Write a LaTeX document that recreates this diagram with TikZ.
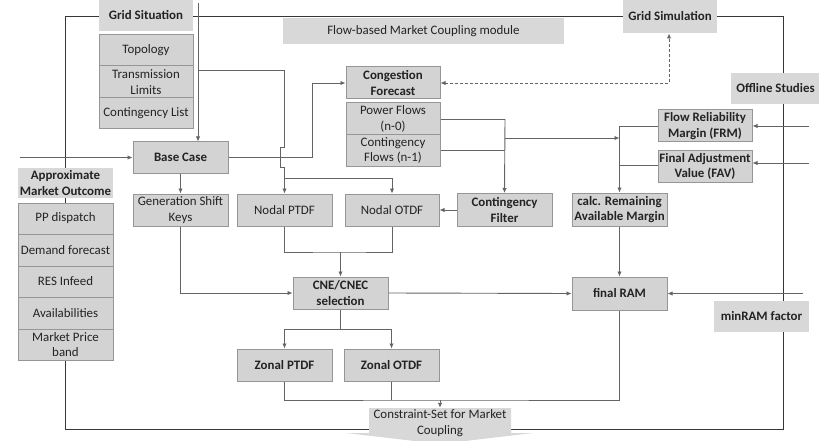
\documentclass[tikz,border=0pt]{standalone}
\usepackage{fontspec}
\setmainfont{Carlito}
\usetikzlibrary{arrows.meta}
\definecolor{boxfill}{RGB}{211,211,211}
\definecolor{titlefill}{RGB}{216,216,216}
\definecolor{boxline}{RGB}{150,150,150}
\definecolor{connc}{RGB}{100,100,100}
\definecolor{framec}{RGB}{55,55,55}
\definecolor{txt}{RGB}{35,35,35}
\begin{document}
\begin{tikzpicture}[x=1pt,y=-1pt,
  box/.style={draw=boxline, fill=boxfill, line width=1pt, inner sep=0pt, align=center, text=txt,
    font=\fontsize{12.9}{15.7}\selectfont},
  bbox/.style={box, font=\fontsize{12.9}{15.7}\selectfont\bfseries},
  tbox/.style={bbox, draw=none, fill=titlefill},
  conn/.style={draw=connc, line width=0.9pt},
  arr/.style={conn, -{Latex[length=5pt,width=4.5pt]}},
  framel/.style={draw=framec, line width=1pt}]
\useasboundingbox (0,0) rectangle (819,441);
% outer frame
\draw[framel] (65,17) rectangle (783,429);
% constraint-set arrow shape
\fill[titlefill] (369,408) -- (511,408) -- (511,433) -- (533,433) -- (440,444) -- (346,433) -- (369,433) -- cycle;
\node[inner sep=0pt, align=center, text=txt, font=\fontsize{12.9}{15.7}\selectfont, minimum height=30pt] (cs) at (440,423) {Constraint-Set for Market\\Coupling};
% top titles
\node[tbox, minimum width=94pt, minimum height=31pt] (gridsit) at (146,15.5) {Grid Situation};
\node[box, draw=none, fill=titlefill, minimum width=281pt, minimum height=26pt] (module) at (423.5,31) {Flow-based Market Coupling module};
\node[tbox, minimum width=94pt, minimum height=33pt] (gridsim) at (670,16.5) {Grid Simulation};
\node[tbox, minimum width=89pt, minimum height=31pt] (offline) at (775.5,88.5) {Offline Studies};
\node[tbox, minimum width=95pt, minimum height=31pt] (minram) at (761.5,316.5) {minRAM factor};
% grid situation stack
\node[box, minimum width=94pt, minimum height=31pt] (topo) at (146,50.5) {Topology};
\node[box, minimum width=94pt, minimum height=32pt] (trans) at (146,82) {Transmission\\Limits};
\node[box, minimum width=94pt, minimum height=31pt] (clist) at (146,113.5) {Contingency List};
% approximate market outcome stack
\node[tbox, minimum width=95pt, minimum height=30pt] (amo) at (65.5,183) {Approximate\\Market Outcome};
\node[box, minimum width=95pt, minimum height=31pt] (pp) at (65.5,218.5) {PP dispatch};
\node[box, minimum width=95pt, minimum height=32pt] (demand) at (65.5,250) {Demand forecast};
\node[box, minimum width=95pt, minimum height=31pt] (res) at (65.5,281.5) {RES Infeed};
\node[box, minimum width=95pt, minimum height=32pt] (avail) at (65.5,313) {Availabilities};
\node[box, minimum width=95pt, minimum height=31pt] (mpb) at (65.5,344.5) {Market Price\\band};
% main boxes
\node[bbox, minimum width=95pt, minimum height=31pt] (base) at (180.5,157.5) {Base Case};
\node[box, minimum width=95pt, minimum height=32pt] (gsk) at (180.5,210) {Generation Shift\\Keys};
\node[box, minimum width=95pt, minimum height=32pt] (nptdf) at (284.5,210) {Nodal PTDF};
\node[box, minimum width=94pt, minimum height=32pt] (notdf) at (392,210) {Nodal OTDF};
\node[bbox, minimum width=95pt, minimum height=33pt] (cfilter) at (504.5,210) {Contingency\\Filter};
\node[bbox, minimum width=94pt, minimum height=32pt] (congf) at (393,83) {Congestion\\Forecast};
\node[box, minimum width=94pt, minimum height=32pt] (pflow) at (393,119) {Power Flows\\(n-0)};
\node[box, minimum width=94pt, minimum height=31pt] (cflow) at (393,150.5) {Contingency\\Flows (n-1)};
\node[bbox, minimum width=94pt, minimum height=32pt] (frm) at (705,126) {Flow Reliability\\Margin (FRM)};
\node[bbox, minimum width=94pt, minimum height=31pt] (fav) at (705,166.5) {Final Adjustment\\Value (FAV)};
\node[bbox, minimum width=95pt, minimum height=33pt] (calc) at (619.5,209.5) {calc. Remaining\\Available Margin};
\node[bbox, minimum width=95pt, minimum height=33pt] (fram) at (619.5,293.5) {final RAM};
\node[bbox, minimum width=95pt, minimum height=32pt] (cne) at (340.5,293) {CNE/CNEC\\selection};
\node[bbox, minimum width=95pt, minimum height=32pt] (zptdf) at (284.5,365) {Zonal PTDF};
\node[bbox, minimum width=95pt, minimum height=32pt] (zotdf) at (391.5,365) {Zonal OTDF};
% free ends
\coordinate (gsin) at (198,3);
\coordinate (amoin) at (20,157.5);
\coordinate (frmin) at (809,126);
\coordinate (favin) at (809,163);
\coordinate (ramin) at (803,293.5);
% connectors
\draw[arr] (gsin) -- (gsin |- base.north);
\draw[arr] (198,70.5) -- (284.5,70.5) -- (284.5,147) -- (280,147) -- (280,167) -- (284.5,167) -- (nptdf.north);
\draw[arr] (284.5,178) -| (notdf.north);
\draw[arr] (amoin) -- (base.west);
\draw[arr] (base.east) -- (312,157.5) |- (congf.west);
\draw[arr] (base.south) -- (gsk.north);
\draw[arr] (gsk.south) |- (cne.west);
\draw[conn] (pflow.east) -- (505,119);
\draw[conn] (cflow.east) -- (505,150.5);
\draw[arr] (505,119) -- (cfilter.north);
\draw[arr] (505,138) -- (619.5,138);
\draw[arr] (cfilter.west) -- (notdf.east);
\draw[conn] (nptdf.south) |- (340.5,252) -| (notdf.south);
\draw[arr] (340.5,252) -- (cne.north);
\draw[arr] (cne.east) -- (fram.west);
\draw[conn] (cne.south) -- (340.5,329);
\draw[arr] (340.5,329) -| (zptdf.north);
\draw[arr] (340.5,329) -| (zotdf.north);
\draw[conn] (zptdf.south) |- (440,400) -| (fram.south);
\draw[conn] (zotdf.south) -- (391.5,400);
\draw[arr] (440,400) -- (cs.north);
\draw[arr] (frm.west) -| (calc.north);
\draw[conn] (fav.west |- 0,165) -- (619.5,165);
\draw[arr] (calc.south) -- (fram.north);
\draw[arr] (frmin) -- (frm.east);
\draw[arr] (favin) -- (fav.east |- favin);
\draw[arr] (ramin) -- (fram.east);
\draw[conn, dash pattern=on 3pt off 2pt, {Latex[length=5pt,width=4.5pt]}-{Latex[length=5pt,width=4.5pt]}] (congf.east) -- (669,83) -- (gridsim.south -| 669,0);
\end{tikzpicture}
\end{document}
